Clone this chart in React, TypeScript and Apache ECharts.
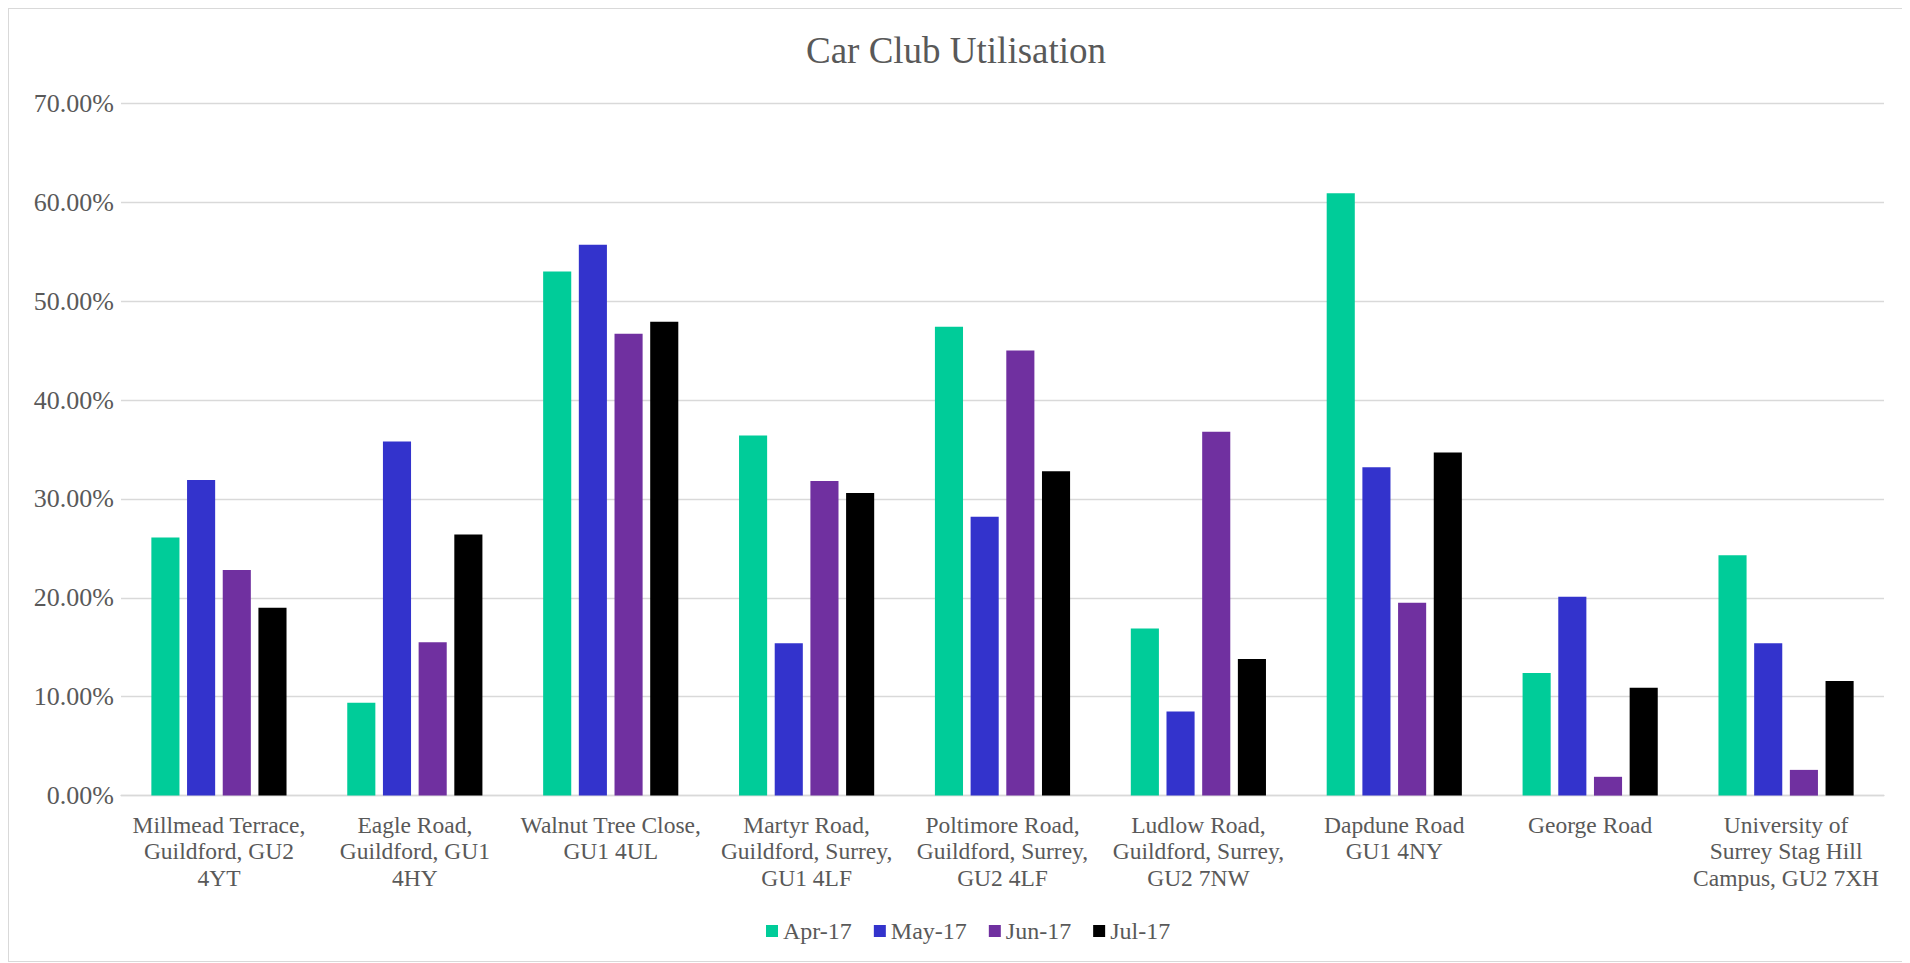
import React, { useEffect, useRef } from "react";
import * as echarts from "echarts";

const categories = [
  "Millmead Terrace,\nGuildford, GU2\n4YT",
  "Eagle Road,\nGuildford, GU1\n4HY",
  "Walnut Tree Close,\nGU1 4UL",
  "Martyr Road,\nGuildford, Surrey,\nGU1 4LF",
  "Poltimore Road,\nGuildford, Surrey,\nGU2 4LF",
  "Ludlow Road,\nGuildford, Surrey,\nGU2 7NW",
  "Dapdune Road\nGU1 4NY",
  "George Road",
  "University of\nSurrey Stag Hill\nCampus, GU2 7XH",
];

const seriesNames = ["Apr-17", "May-17", "Jun-17", "Jul-17"];
const seriesColors = ["#00CC99", "#3333CC", "#7030A0", "#000000"];

const apr17 = [26.1, 9.4, 53.0, 36.4, 47.4, 16.9, 60.9, 12.4, 24.3];
const may17 = [31.9, 35.8, 55.7, 15.4, 28.2, 8.5, 33.2, 20.1, 15.4];
const jun17 = [22.8, 15.5, 46.7, 31.8, 45.0, 36.8, 19.5, 1.9, 2.6];
const jul17 = [19.0, 26.4, 47.9, 30.6, 32.8, 13.8, 34.7, 10.9, 11.6];

const seriesData = [apr17, may17, jun17, jul17];

const FONT = "'Liberation Serif', 'Times New Roman', serif";
const TEXT = "#595959";

export default function App() {
  const ref = useRef<HTMLDivElement>(null);

  useEffect(() => {
    if (!ref.current) return;
    const chart = echarts.init(ref.current, null, { renderer: "svg" });
    chart.setOption({
      animation: false,
      backgroundColor: "#ffffff",
      title: {
        text: "Car Club Utilisation",
        left: "center",
        top: 18,
        textStyle: {
          fontFamily: FONT,
          fontSize: 37,
          fontWeight: "normal",
          color: TEXT,
        },
      },
      legend: {
        data: seriesNames,
        left: 752,
        top: 905,
        icon: "rect",
        itemWidth: 12,
        itemHeight: 12,
        itemGap: 22,
        textStyle: { fontFamily: FONT, fontSize: 24, color: TEXT },
      },
      grid: { left: 112, right: 19, top: 94.3, bottom: 165.4, containLabel: false },
      xAxis: {
        type: "category",
        data: categories,
        axisLine: { lineStyle: { color: "#d9d9d9", width: 1.3 } },
        axisTick: { show: false },
        axisLabel: {
          interval: 0,
          margin: 16,
          fontFamily: FONT,
          fontSize: 23.5,
          lineHeight: 26.5,
          color: TEXT,
          align: "center",
        },
      },
      yAxis: {
        type: "value",
        min: 0,
        max: 70,
        interval: 10,
        axisLine: { show: false },
        axisTick: { show: false },
        splitLine: { lineStyle: { color: "#d9d9d9", width: 1.3 } },
        axisLabel: {
          margin: 7,
          fontFamily: FONT,
          fontSize: 26,
          color: TEXT,
          formatter: (v: number) => v.toFixed(2) + "%",
        },
      },
      series: seriesNames.map((name, i) => ({
        name,
        type: "bar",
        data: seriesData[i],
        itemStyle: { color: seriesColors[i] },
        barGap: "27%",
        barCategoryGap: "31%",
      })),
    });
    return () => chart.dispose();
  }, []);

  return (
    <div
      style={{
        width: 1896,
        height: 954,
        border: "1px solid #d9d9d9",
        boxSizing: "border-box",
        background: "#fff",
      }}
    >
      <div ref={ref} style={{ width: 1894, height: 952 }} />
    </div>
  );
}
